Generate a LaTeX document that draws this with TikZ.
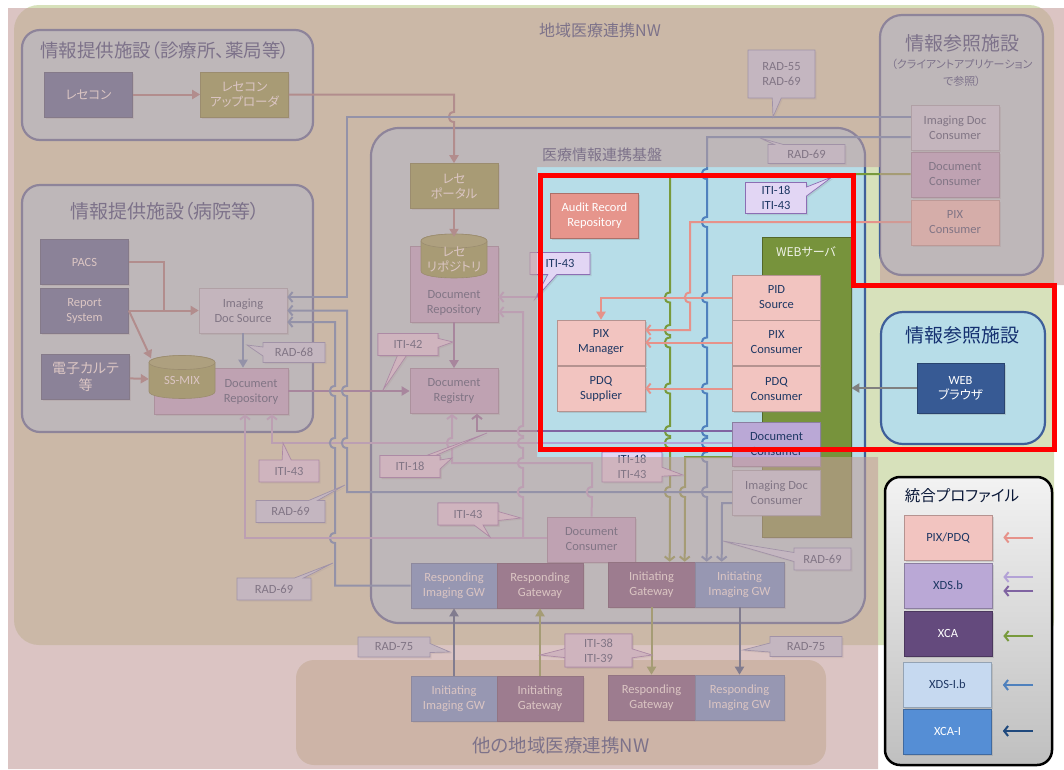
\documentclass[tikz,border=0pt]{standalone}
\usepackage{fontspec}
\setmainfont{Carlito}
\newfontfamily\jp[RawFeature=+palt]{Noto Sans CJK JP}
\usetikzlibrary{arrows.meta,calc,shadows,shapes.callouts}

\definecolor{ttlc}{RGB}{20,48,112}
\definecolor{txtd}{RGB}{31,56,100}
\definecolor{areag}{RGB}{215,225,187}
\definecolor{otherg}{RGB}{220,215,187}
\definecolor{facf}{RGB}{183,221,232}
\definecolor{facd}{RGB}{63,95,154}
\definecolor{pixf}{RGB}{242,196,192}
\definecolor{xdsf}{RGB}{186,168,214}
\definecolor{xcaf}{RGB}{100,74,125}
\definecolor{xdsif}{RGB}{198,217,240}
\definecolor{xcaif}{RGB}{85,142,213}
\definecolor{sysf}{RGB}{55,90,148}
\definecolor{recef}{RGB}{128,152,62}
\definecolor{webf}{RGB}{119,147,60}
\definecolor{auditf}{RGB}{230,149,140}
\definecolor{recec}{RGB}{154,116,121}
\definecolor{idsc}{RGB}{79,129,189}
\definecolor{xcaic}{RGB}{31,73,125}
\definecolor{xdslc}{RGB}{179,162,214}
\definecolor{xdsdc}{RGB}{128,100,162}
\definecolor{xcac}{RGB}{120,154,60}
\definecolor{pixc}{RGB}{230,146,138}
\definecolor{itif}{RGB}{226,214,244}
\definecolor{itid}{RGB}{140,110,180}
\definecolor{radf}{RGB}{198,218,248}
\definecolor{radd}{RGB}{110,130,185}
\definecolor{ovl}{RGB}{195,158,155}

\newcommand{\hopd}[2]{-- (#1,#2-5) .. controls +(-7,0) and +(-7,0) .. (#1,#2+5)}
\newcommand{\hopu}[2]{-- (#1,#2+5) .. controls +(-7,0) and +(-7,0) .. (#1,#2-5)}
\newcommand{\drum}[4]{%
  \filldraw[fill=recef, draw=recef!75!black, line width=0.6]
    (#1-#3/2,#2-#4/2+7) -- (#1-#3/2,#2+#4/2-7)
    .. controls +(0,9.3) and +(0,9.3) .. (#1+#3/2,#2+#4/2-7)
    -- (#1+#3/2,#2-#4/2+7)
    .. controls +(0,-9.3) and +(0,-9.3) .. (#1-#3/2,#2-#4/2+7) -- cycle;
  \filldraw[fill=recef!88!white, draw=recef!75!black, line width=0.6]
    (#1,#2-#4/2+7) ellipse [x radius=#3/2, y radius=7];}

\begin{document}
\begin{tikzpicture}
    [x=1pt, y=-1pt,
     box/.style={rectangle, minimum width=88, minimum height=45, inner sep=1,
       align=center, line width=0.6, font=\fontsize{12.5}{15}\selectfont,
       drop shadow={opacity=0.25, shadow xshift=1.5pt, shadow yshift=-1.5pt}},
     pixbox/.style={box, fill=pixf, draw=pixf!75!black, text=txtd},
     xdsbox/.style={box, fill=xdsf, draw=xdsf!75!black, text=txtd},
     xcabox/.style={box, fill=xcaf, draw=xcaf!75!black, text=white},
     xdsibox/.style={box, fill=xdsif, draw=xdsif!75!black, text=txtd},
     xcaibox/.style={box, fill=xcaif, draw=xcaif!75!black, text=white},
     sysbox/.style={box, fill=sysf, draw=sysf!75!black, text=white},
     recebox/.style={box, fill=recef, draw=recef!75!black, text=white},
     auditbox/.style={box, fill=auditf, draw=auditf!75!black, text=white},
     drumtext/.style={rectangle, inner sep=0, align=center, text=white,
       font=\fontsize{12.5}{15}\selectfont},
     tag/.style={inner sep=0, align=center, text=txtd, font=\fontsize{12.5}{15}\selectfont},
     ttl/.style={inner sep=0, align=center, text=ttlc, font=\jp\fontsize{19}{22}\selectfont},
     fac/.style={fill=facf, draw=facd, line width=2.2, rounded corners=18},
     lbl/.style={rectangle callout, callout pointer width=9pt, minimum width=60,
       minimum height=22, inner sep=1, align=center, text=txtd, line width=0.7,
       font=\fontsize{12.5}{15}\selectfont,
       drop shadow={opacity=0.2, shadow xshift=1.5pt, shadow yshift=-1.5pt}},
     itilbl/.style={lbl, fill=itif, draw=itid, callout absolute pointer={#1}},
     radlbl/.style={lbl, fill=radf, draw=radd, callout absolute pointer={#1}},
     tri/.style={-{Triangle[length=8pt,width=9pt]}},
     chev/.style={-{Straight Barb[length=4pt,width=10pt]}},
     recewire/.style={draw=recec, line width=2},
     idswire/.style={draw=idsc, line width=2},
     xcaiwire/.style={draw=xcaic, line width=2},
     xdslwire/.style={draw=xdslc, line width=2},
     xdsdwire/.style={draw=xdsdc, line width=2},
     xcawire/.style={draw=xcac, line width=2},
     pixwire/.style={draw=pixc, line width=2},
     greywire/.style={draw=black!50, line width=2}]
    \useasboundingbox (0,0) rectangle (1064,769);
    \fill[white] (0,0) rectangle (1064,769);
    \fill[areag, rounded corners=25] (14,5) rectangle (1054,645);
    \fill[otherg, rounded corners=18] (296,660) rectangle (826,765);
    \node[ttl, font=\jp\fontsize{16}{20}\selectfont] (areattl) at (600,30) {地域医療連携NW};
    \node[ttl, font=\jp\fontsize{18.5}{20}\selectfont] (otherttl) at (561,745) {他の地域医療連携NW};

    \draw[fac] (22,30) rectangle (313,140);
    \node[ttl, font=\jp\fontsize{18.5}{22}\selectfont] (clinicttl) at (165,50) {情報提供施設（診療所、薬局等）};
    \draw[fac] (22,185) rectangle (313,432);
    \node[ttl] (hospttl) at (165,211) {情報提供施設（病院等）};
    \draw[fac, rounded corners=22] (880,15) rectangle (1043,275);
    \node[ttl] (clientttl) at (962,43) {情報参照施設};
    \node[ttl, font=\jp\fontsize{11}{17}\selectfont] (clientsub) at (962,73) {（クライアントアプリケーション\\で参照）};
    \draw[fac, rounded corners=28] (371,128) rectangle (865,623);
    \node[ttl, font=\jp\fontsize{15}{20}\selectfont] (basettl) at (602,155) {医療情報連携基盤};
    \draw[fac, rounded corners=22] (881,312) rectangle (1045,444);
    \node[ttl] (webttl) at (962,335) {情報参照施設};

    \node[sysbox] (recekon) at (88.5,94.5) {\jp レセコン};
    \node[recebox] (uploader) at (244.5,94.5) {\jp レセコン\\\jp アップローダ};
    \node[sysbox] (pacs) at (84.5,262) {PACS};
    \node[sysbox] (report) at (84.5,310.5) {Report\\System};
    \node[sysbox, font=\jp\fontsize{14}{17}\selectfont] (emr) at (85.5,377) {電子カルテ\\等};
    \node[xdsibox] (ids) at (243,310.5) {Imaging\\Doc Source};
    \node[xdsbox, minimum width=134, minimum height=46] (hrepo) at (221,391) {};
    \node[tag] (hrepotxt) at (251,392) {Document\\Repository};
    \drum{182}{377}{66}{43}
    \node[drumtext, minimum width=66, minimum height=43] (ssmix) at (182,380) {SS-MIX};

    \node[recebox] (portal) at (454,186) {\jp レセ\\\jp ポータル};
    \node[xdsbox, minimum height=76] (brepo) at (454,284) {};
    \node[tag] (brepotxt) at (454,303) {Document\\Repository};
    \drum{454}{256}{66}{44}
    \node[drumtext, minimum width=66, minimum height=44, font=\jp\fontsize{12.5}{15}\selectfont] (rececyl) at (454,259) {レセ\\リポジトリ};
    \node[xdsbox] (registry) at (454,391) {Document\\Registry};
    \node[auditbox] (audit) at (594.5,215.5) {Audit Record\\Repository};
    \node[pixbox] (pixmgr) at (601,342.5) {PIX\\Manager};
    \node[pixbox] (pdqsup) at (601,388.5) {PDQ\\Supplier};
    \node[box, fill=webf, draw=webf!70!black, minimum width=89, minimum height=300] (websrv) at (806.5,387) {};
    \node[inner sep=0, text=white!88!webf, font=\jp\fontsize{12}{14}\selectfont] (websrvttl) at (806,252) {WEBサーバ};
    \node[pixbox] (pidsrc) at (776.5,297.5) {PID\\Source};
    \node[pixbox] (pixcon) at (776.5,342.5) {PIX\\Consumer};
    \node[pixbox] (pdqcon) at (776.5,388.5) {PDQ\\Consumer};
    \node[xdsbox, minimum height=44] (wdoccon) at (776.5,444) {Document\\Consumer};
    \node[xdsibox] (widc) at (776.5,492.5) {Imaging Doc\\Consumer};
    \node[xdsbox] (bdoccon) at (591.5,539.5) {Document\\Consumer};
    \node[xcaibox, minimum width=86] (rigw) at (454,585.5) {Responding\\Imaging GW};
    \node[xcabox, minimum width=86] (rgw) at (540,585.5) {Responding\\Gateway};
    \node[xcabox, minimum width=87] (igw) at (651.5,584.5) {Initiating\\Gateway};
    \node[xcaibox, minimum width=89] (iigw) at (739.5,584.5) {Initiating\\Imaging GW};
    \node[xcaibox, minimum width=86] (oiigw) at (454,698.5) {Initiating\\Imaging GW};
    \node[xcabox, minimum width=86] (oigw) at (540,698.5) {Initiating\\Gateway};
    \node[xcabox, minimum width=87] (orgw) at (651.5,697.5) {Responding\\Gateway};
    \node[xcaibox, minimum width=89] (origw) at (739.5,697.5) {Responding\\Imaging GW};

    \node[xdsibox] (cidc) at (955,128) {Imaging Doc\\Consumer};
    \node[xdsbox] (cdc) at (955,174.5) {Document\\Consumer};
    \node[pixbox] (cpix) at (955,222.5) {PIX\\Consumer};
    \node[sysbox, minimum width=87, minimum height=50] (browser) at (960.5,388) {WEB\\\jp ブラウザ};

    \draw[recewire, tri] (recekon) -- (uploader);
    \draw[recewire, tri] (uploader.east) -- (454,94.5) \hopd{454}{117} -- (portal.north);
    \draw[recewire, tri] (portal) -- (rececyl.north);
    \draw[recewire] (pacs.east) -- (164,262) -- (164,310.5);
    \draw[recewire, tri] (report.east) -- (ids.west);
    \draw[recewire, tri] (report.east) -- (ssmix.145);
    \draw[recewire, tri] (emr) -- (ssmix);
    \draw[idswire, tri] (ids.south) -- (ids.south |- hrepo.north);

    \draw[idswire, chev] ($(cidc.west)+(0,-11)$) -- (347,117) -- (347,297) -- ($(ids.east)+(0,-13.5)$);
    \draw[idswire, chev] ($(cidc.west)+(0,9)$) -- (707,137) \hopd{707}{174} \hopd{707}{222} \hopd{707}{297.5}
      \hopd{707}{342.5} \hopd{707}{388.5} \hopd{707}{431} \hopd{707}{443} \hopd{707}{457} \hopd{707}{492}
      -- ($(iigw.north west)+(12,0)$);
    \draw[xcawire, chev] ($(cdc.west)+(0,-0.5)$) -- (670,174) \hopd{670}{297.5} \hopd{670}{330} \hopd{670}{342.5}
      \hopd{670}{388.5} \hopd{670}{431} \hopd{670}{443} \hopd{670}{492} -- ($(igw.north west)+(62,0)$);
    \draw[xcawire, chev] ($(wdoccon.west)+(0,13)$) -- (685,457) \hopd{685}{492} -- ($(igw.north west)+(77,0)$);
    \draw[idswire, chev] ($(widc.west)+(0,10.5)$) -- (722,503) -- ($(iigw.north west)+(27,0)$);
    \draw[pixwire, chev] ($(cpix.west)+(0,-0.5)$) -- (690,222) \hopd{690}{297.5} -- (690,330) -- ($(pixmgr.east)+(0,-12.5)$);
    \draw[pixwire, tri] (pidsrc.west) -- (601,297.5) -- (pixmgr.north);
    \draw[pixwire, chev] (pixcon) -- (pixmgr);
    \draw[pixwire, chev] (pdqcon) -- (pdqsup);
    \draw[xdsdwire, chev] ($(wdoccon.west)+(0,-13)$) -- (477,431) -- ($(registry.south)+(23,0)$);
    \draw[xdslwire, chev] ($(wdoccon.west)+(0,-1)$) -- (272,443) -- ($(hrepo.south)+(51,0)$);
    \draw[xdsdwire, tri] (brepo) -- (registry);
    \draw[xdsdwire, tri] (hrepo) -- (registry);
    \draw[idswire, chev] ($(widc.west)+(0,-0.5)$) -- (347,492) \hopu{347}{443} \hopu{347}{391} -- (347,310.5) -- (ids.east);
    \draw[idswire, chev] (rigw.west) -- (335,585.5) \hopu{335}{538} \hopu{335}{443} \hopu{335}{391} -- (335,322)
      -- ($(ids.east)+(0,11.5)$);
    \coordinate (split) at (523,538);
    \draw[xdslwire, chev] ($(bdoccon.west)+(0,-1.5)$) -- (245,538) -- ($(hrepo.south)+(24,0)$);
    \draw[xdslwire, chev] (split) \hopu{523}{492} \hopu{523}{463} \hopu{523}{443} \hopu{523}{431} -- (523,312)
      -- ($(brepo.east)+(0,28)$);
    \draw[xdslwire, chev] (bdoccon.north) \hopu{592}{492} -- (592,463) -- (452,463) \hopu{452}{443}
      -- ($(registry.south)+(-2,0)$);
    \coordinate (frameleft) at (540,297);
    \draw[xdslwire, chev] (frameleft) -- ($(brepo.east)+(0,13)$);

    \draw[xcaiwire, tri] (oiigw) -- (rigw);
    \draw[xcawire, tri] (oigw) -- (rgw);
    \draw[xcawire, tri] (igw) -- (orgw);
    \draw[xcaiwire, tri] (iigw) -- (origw);
    \draw[greywire, tri] (browser.west) -- (websrv.east |- browser.west);

    \node[radlbl={(773,117)}, minimum width=67, minimum height=48] (rad55) at (781.5,74) {RAD-55\\RAD-69};
    \node[radlbl={(760,138)}, minimum width=77, minimum height=19] (rad69a) at (806.5,154) {RAD-69};
    \node[itilbl={(832,177)}, minimum width=61, minimum height=31] (iti1843a) at (776,198) {ITI-18\\ITI-43};
    \node[itilbl={(535,299)}] (iti43a) at (560,263.5) {ITI-43};
    \node[radlbl={(247,345)}, minimum width=62, minimum height=20] (rad68) at (294,352.5) {RAD-68};
    \node[itilbl={(383,390)}] (iti42) at (408,344.5) {ITI-42};
    \node[itilbl={(453,342)}] (iti42b) at (408,344.5) {ITI-42};
    \node[itilbl={(283,443)}] (iti43b) at (289,471) {ITI-43};
    \node[radlbl={(345,485)}, minimum width=69] (rad69b) at (290.5,511.5) {RAD-69};
    \node[radlbl={(333,563)}, minimum width=74] (rad69c) at (274,589) {RAD-69};
    \node[itilbl={(487,433)}] (iti18) at (410,466.5) {ITI-18};
    \node[itilbl={(452,458)}] (iti18b) at (410,466.5) {ITI-18};
    \node[itilbl={(683,475)}, minimum height=30] (iti1843b) at (632,467) {ITI-18\\ITI-43};
    \node[itilbl={(521,518)}] (iti43c) at (468,514) {ITI-43};
    \node[itilbl={(490,537)}] (iti43d) at (468,514) {ITI-43};
    \node[radlbl={(723,541)}, minimum width=57] (rad69d) at (822.5,559) {RAD-69};
    \node[radlbl={(450,652)}, minimum width=72, minimum height=20] (rad75a) at (394,647) {RAD-75};
    \node[radlbl={(743,650)}, minimum width=72, minimum height=20] (rad75b) at (806,646.5) {RAD-75};
    \node[itilbl={(540,655)}, minimum width=67, minimum height=33] (iti3839) at (598.5,650.5) {ITI-38\\ITI-39};
    \node[itilbl={(652,655)}, minimum width=67, minimum height=33] (iti3839b) at (598.5,650.5) {ITI-38\\ITI-39};

    \draw[top color=black!5, bottom color=black!25, draw=black, line width=2.5, rounded corners=15] (885,477) rectangle (1052,765);
    \node[inner sep=0, text=black!50!ttlc, font=\jp\fontsize{15.5}{18}\selectfont] (legttl) at (962,496) {統合プロファイル};
    \node[pixbox] (lpix) at (948,537.5) {PIX/PDQ};
    \node[xdsbox] (lxds) at (948,585.5) {XDS.b};
    \node[xcabox] (lxca) at (948,633.5) {XCA};
    \node[xdsibox] (lxdsi) at (947.5,684.5) {XDS-I.b};
    \node[xcaibox] (lxcai) at (947.5,731.5) {XCA-I};
    \draw[pixwire, chev] ($(lpix.east)+(41,0)$) -- ($(lpix.east)+(11,0)$);
    \draw[xdslwire, chev] ($(lxds.east)+(41,-8.5)$) -- ($(lxds.east)+(11,-8.5)$);
    \draw[xdsdwire, chev] ($(lxds.east)+(41,5.5)$) -- ($(lxds.east)+(11,5.5)$);
    \draw[xcawire, chev] ($(lxca.east)+(41,2.5)$) -- ($(lxca.east)+(11,2.5)$);
    \draw[idswire, chev] ($(lxdsi.east)+(41,0.5)$) -- ($(lxdsi.east)+(11,0.5)$);
    \draw[xcaiwire, chev] ($(lxcai.east)+(41,-0.5)$) -- ($(lxcai.east)+(11,-0.5)$);

    \fill[ovl, fill opacity=0.6] (8,8) -- (1064,8) -- (1064,285) -- (880,285) -- (880,167) -- (537,167)
      -- (537,457) -- (878,457) -- (878,769) -- (8,769) -- cycle;
    \draw[red, line width=5] (540,175) -- (853,175) -- (853,285) -- (1054,285) -- (1054,449) -- (540,449) -- cycle;
\end{tikzpicture}
\end{document}
